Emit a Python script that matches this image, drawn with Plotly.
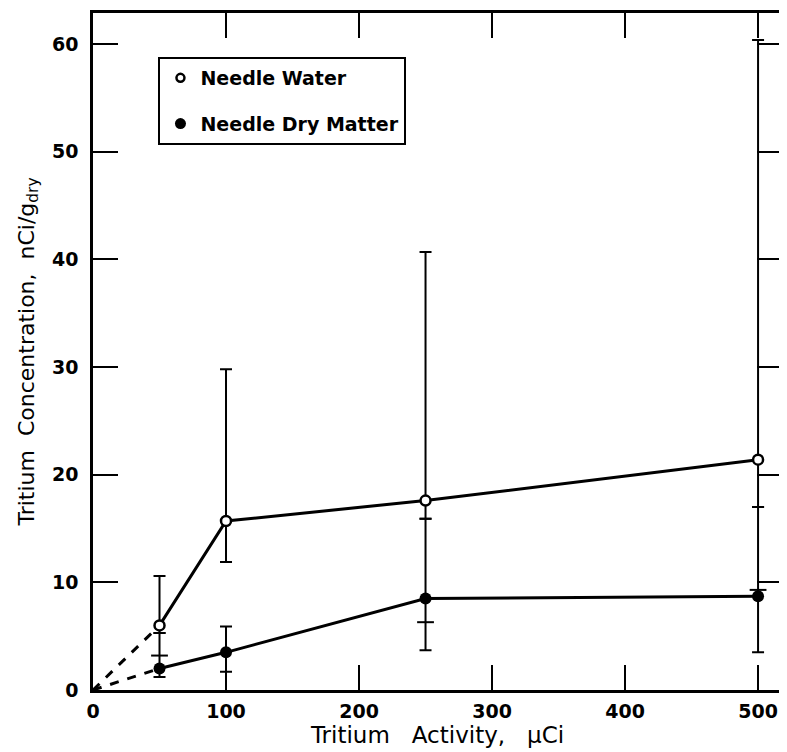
import plotly.graph_objects as go

# Data
activity = [50, 100, 250, 500]
water = [6.0, 15.7, 17.6, 21.4]
water_hi = [10.6, 29.8, 40.7, 60.4]
water_lo = [5.3, 11.9, 15.9, 17.0]
dry = [2.0, 3.5, 8.5, 8.7]
dry_hi = [5.3, 5.9, 15.9, 17.0]
dry_lo = [1.2, 1.7, 3.7, 3.5]
extra_cap_x = [50, 250, 500]
extra_cap_y = [3.2, 6.3, 9.3]
origin = [0, 0]

x_ticks = [0, 100, 200, 300, 400, 500]
y_ticks = [0, 10, 20, 30, 40, 50, 60]

BLACK = "black"
fig = go.Figure()

# dashed extrapolation to origin
fig.add_trace(go.Scatter(x=[origin[0], activity[0]], y=[origin[1], water[0]], mode="lines",
                         line=dict(color=BLACK, width=3, dash="dash"), showlegend=False, hoverinfo="skip"))
fig.add_trace(go.Scatter(x=[origin[0], activity[0]], y=[origin[1], dry[0]], mode="lines",
                         line=dict(color=BLACK, width=3, dash="dash"), showlegend=False, hoverinfo="skip"))

# extra error-bar caps
fig.add_trace(go.Scatter(x=extra_cap_x, y=extra_cap_y, mode="markers",
                         marker=dict(symbol="line-ew", size=12, line=dict(color=BLACK, width=2)),
                         showlegend=False, hoverinfo="skip"))

# Needle dry matter
fig.add_trace(go.Scatter(
    x=activity, y=dry, mode="lines+markers",
    line=dict(color=BLACK, width=3),
    marker=dict(symbol="circle", size=12, color=BLACK),
    error_y=dict(type="data", symmetric=False,
                 array=[h - v for h, v in zip(dry_hi, dry)],
                 arrayminus=[v - l for v, l in zip(dry, dry_lo)],
                 color=BLACK, thickness=2, width=6),
    showlegend=False))

# Needle water
fig.add_trace(go.Scatter(
    x=activity, y=water, mode="lines+markers",
    line=dict(color=BLACK, width=3),
    marker=dict(symbol="circle", size=10, color="white", line=dict(color=BLACK, width=2.5)),
    error_y=dict(type="data", symmetric=False,
                 array=[h - v for h, v in zip(water_hi, water)],
                 arrayminus=[v - l for v, l in zip(water, water_lo)],
                 color=BLACK, thickness=2, width=6),
    showlegend=False))

# legend entries
fig.add_trace(go.Scatter(x=[None], y=[None], mode="markers", name="Needle Water", legendgroup="a",
                         marker=dict(symbol="circle", size=8, color="white", line=dict(color=BLACK, width=2.5))))
fig.add_trace(go.Scatter(x=[None], y=[None], mode="markers", name="Needle Dry Matter", legendgroup="b",
                         marker=dict(symbol="circle", size=11, color=BLACK)))

axis_common = dict(showline=True, linecolor=BLACK, linewidth=2.5, mirror="ticks",
                   ticks="inside", ticklen=25, tickwidth=2, tickcolor=BLACK,
                   showgrid=False, zeroline=False,
                   tickfont=dict(family="DejaVu Sans", size=19, color=BLACK, weight="bold"))

fig.update_layout(
    width=779, height=744,
    margin=dict(l=85, r=2, t=2, b=62),
    paper_bgcolor="white", plot_bgcolor="white",
    xaxis=dict(range=[0, 518], tickvals=x_ticks, ticklabelstandoff=2,
               title=dict(text="Tritium   Activity,   μCi", standoff=2,
                          font=dict(family="DejaVu Sans", size=23, color=BLACK)),
               **axis_common),
    yaxis=dict(range=[0, 62.9], tickvals=y_ticks, ticklabelstandoff=8,
               title=dict(text="Tritium  Concentration,  nCi/g<sub>dry</sub>", standoff=12,
                          font=dict(family="DejaVu Sans", size=22, color=BLACK)),
               **axis_common),
    legend=dict(x=0.095, y=0.935, xanchor="left", yanchor="top",
                bordercolor=BLACK, borderwidth=2, bgcolor="white",
                traceorder="grouped", tracegroupgap=18,
                font=dict(family="DejaVu Sans", size=19, color=BLACK, weight="bold")),
)

fig.write_html("out.html")
